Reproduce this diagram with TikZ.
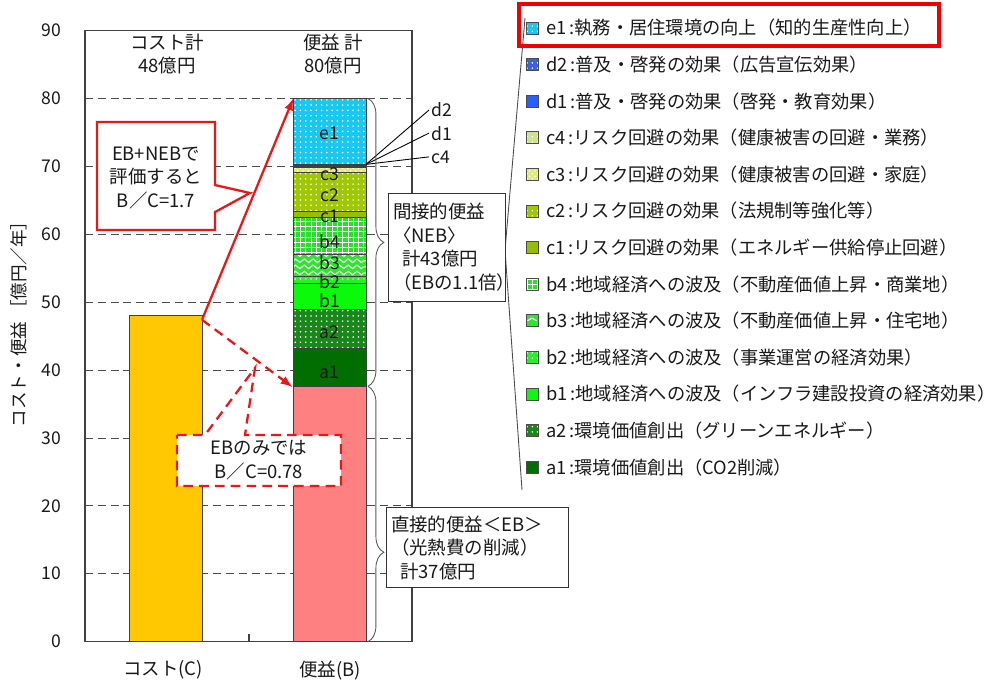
\documentclass[tikz,border=0pt]{standalone}
\usepackage{fontspec}
\setmainfont{Noto Sans CJK JP}
\usetikzlibrary{positioning, arrows, patterns, decorations.pathreplacing, decorations.pathmorphing}

\definecolor{costY}{RGB}{255,200,0}
\definecolor{ebPink}{RGB}{255,128,128}
\definecolor{colA1}{RGB}{0,110,0}
\definecolor{colA2}{RGB}{25,135,25}
\definecolor{colB1}{RGB}{10,250,10}
\definecolor{colB2}{RGB}{40,240,40}
\definecolor{colB3}{RGB}{45,230,45}
\definecolor{colB4}{RGB}{45,220,45}
\definecolor{colC1}{RGB}{150,190,0}
\definecolor{colC2}{RGB}{160,200,0}
\definecolor{colC3}{RGB}{220,235,120}
\definecolor{colC4}{RGB}{205,228,140}
\definecolor{colD1}{RGB}{40,95,255}
\definecolor{colD2}{RGB}{60,95,230}
\definecolor{colE1}{RGB}{25,200,240}
\definecolor{redArr}{RGB}{230,25,25}
\definecolor{redBox}{RGB}{240,0,0}

\begin{document}
\begin{tikzpicture}[x=0.02cm, y=0.1358cm,
  every node/.style={font=\fontsize{10.5}{13.5}\selectfont, inner sep=1pt, text=black!90},
  gridline/.style={black!70, line width=0.5pt, dash pattern=on 4.5pt off 2.8pt},
  seg/.style={draw=black!75, line width=0.4pt},
  dotseg/.style={seg, preaction={fill=#1}, pattern=dots, pattern color=white},
  wave/.style={white, line width=0.6pt, decorate, decoration={zigzag, segment length=5pt, amplitude=1pt}},
  brc/.style={black!65, line width=0.5pt, decorate, decoration={brace, amplitude=9pt, aspect=#1}},
  ticklbl/.style={anchor=east, font=\fontsize{10}{12}\selectfont},
  barlbl/.style={font=\fontsize{10}{12}\selectfont},
  infobox/.style={draw=black!80, fill=white, align=left, line width=0.5pt, inner xsep=0.1cm},
  redline/.style={draw=redArr, line width=1.3pt},
  reddash/.style={draw=redArr, line width=1.3pt, dash pattern=on 5.5pt off 3.5pt},
  legkey/.style={draw=black!70, minimum size=0.24cm, inner sep=0pt},
  dotkey/.style={legkey, preaction={fill=#1}, pattern=dots, pattern color=white},
  legtxt/.style={anchor=west, font=\fontsize{10.4}{12}\selectfont}
]
\useasboundingbox (0,-6.377) rectangle (999,94.51);

% grid and frame
\draw[gridline] (85,10) -- (412,10);
\draw[gridline] (85,20) -- (412,20);
\draw[gridline] (85,30) -- (412,30);
\draw[gridline] (85,40) -- (412,40);
\draw[gridline] (85,50) -- (412,50);
\draw[gridline] (85,60) -- (412,60);
\draw[gridline] (85,70) -- (412,70);
\draw[gridline] (85,80) -- (412,80);
\draw[black!75, line width=0.6pt] (85,0) rectangle (412,90);
\draw[black!75, line width=0.6pt] (249,0) -- (249,1.1);

\node[ticklbl] (T0) at (63,0) {0};
\node[ticklbl] (T10) at (63,10) {10};
\node[ticklbl] (T20) at (63,20) {20};
\node[ticklbl] (T30) at (63,30) {30};
\node[ticklbl] (T40) at (63,40) {40};
\node[ticklbl] (T50) at (63,50) {50};
\node[ticklbl] (T60) at (63,60) {60};
\node[ticklbl] (T70) at (63,70) {70};
\node[ticklbl] (T80) at (63,80) {80};
\node[ticklbl] (T90) at (63,90) {90};
\node[rotate=90, font=\fontsize{10}{12}\selectfont] (yAxis) at (19,47.4) {コスト・便益 ［億円／年］};

\node (costHead) at (167,88.2) {コスト計};
\node (costSum) at (167,84.9) {48億円};
\node (benHead) at (333,88.2) {便益 計};
\node (benSum) at (333,84.9) {80億円};
\node (costCat) at (163,-4.2) {コスト(C)};
\node (benCat) at (330,-4.2) {便益(B)};

% cost bar
\draw[seg, fill=costY] (129,0) rectangle (202.7,48);
\coordinate (costTip) at (202,47.4);

% benefit bar
\draw[seg, fill=ebPink] (293.3,0) rectangle (366,37.6);
\draw[seg, fill=colA1] (293.3,37.6) rectangle (366,43.15);
\draw[dotseg=colA2] (293.3,43.15) rectangle (366,49);
\draw[seg, fill=colB1] (293.3,49) rectangle (366,52.8);
\draw[dotseg=colB2] (293.3,52.8) rectangle (366,53.75);
\fill[colB3] (293.3,53.75) rectangle (366,57.1);
\begin{scope}
\clip (293.3,53.75) rectangle (366,57.1);
\draw[wave] (293.3,54.3) -- (366,54.3);
\draw[wave] (293.3,55.2) -- (366,55.2);
\draw[wave] (293.3,56.1) -- (366,56.1);
\draw[wave] (293.3,57.0) -- (366,57.0);
\end{scope}
\draw[seg] (293.3,53.75) rectangle (366,57.1);
\draw[seg, preaction={fill=colB4}, pattern=grid, pattern color=white] (293.3,57.1) rectangle (366,62.45);
\draw[seg, fill=colC1] (293.3,62.45) rectangle (366,63.4);
\draw[dotseg=colC2] (293.3,63.4) rectangle (366,69.1);
\draw[seg, preaction={fill=colC3}, pattern=crosshatch dots, pattern color=white] (293.3,69.1) rectangle (366,69.9);
\draw[seg, fill=colC4] (293.3,69.9) rectangle (366,70.05);
\draw[seg, fill=colD1] (293.3,70.05) rectangle (366,70.15);
\draw[dotseg=colD2] (293.3,70.15) rectangle (366,70.3);
\draw[dotseg=colE1] (293.3,70.3) rectangle (366,80);
\coordinate (benTop) at (293.3,80);
\coordinate (ebTop) at (292.5,37.5);
\coordinate (dCorner) at (366,70.3);

\node[barlbl] (lblE1) at (329.7,74.9) {e1};
\node[barlbl] (lblC3) at (329.7,68.9) {c3};
\node[barlbl] (lblC2) at (329.7,65.8) {c2};
\node[barlbl] (lblC1) at (329.7,62.6) {c1};
\node[barlbl] (lblB4) at (329.7,58.9) {b4};
\node[barlbl] (lblB3) at (329.7,55.8) {b3};
\node[barlbl] (lblB2) at (329.7,53.0) {b2};
\node[barlbl] (lblB1) at (329.7,50.3) {b1};
\node[barlbl] (lblA2) at (329.7,45.5) {a2};
\node[barlbl] (lblA1) at (329.7,39.6) {a1};

\node[barlbl, anchor=west] (lblD2) at (429,78.3) {d2};
\node[barlbl, anchor=west] (lblD1) at (429,74.9) {d1};
\node[barlbl, anchor=west] (lblC4) at (429,71.4) {c4};
\draw[black, line width=0.5pt] (dCorner) -- (lblD2.west);
\draw[black, line width=0.5pt] (dCorner) -- (lblD1.west);
\draw[black, line width=0.5pt] (dCorner) -- (lblC4.west);

% braces
\draw[brc=0.5] (368,80) -- (368,37.6);
\draw[brc=0.65] (368,37.6) -- (368,0);

% B/C callouts
\draw[redline, fill=white] (97,76.55) -- (215,76.55) -- (215,67.25) -- (250,66.08) -- (215,63.27) -- (215,60.64) -- (97,60.64) -- cycle;
\node[align=center] (bcAll) at (156,68.3) {EB+NEBで\\評価すると\\B／C=1.7};
\draw[redline, -latex] (costTip) -- (benTop);
\draw[reddash, -latex] (costTip) -- (ebTop);
\draw[reddash, fill=white] (177,30.44) -- (205,30.44) -- (255,40.31) -- (245,30.44) -- (341,30.44) -- (341,22.93) -- (177,22.93) -- cycle;
\node[align=center] (bcEB) at (259,26.7) {EBのみでは\\B／C=0.78};

% legend
\draw[black!70, line width=0.5pt] (525,91.85) -- (505,57.69) -- (522,22.34);
\node[infobox, text width=2.14cm, minimum height=2.16cm] (nebBox) at (446.5,58.11) {間接的便益\\〈NEB〉\\\hspace{0.5em}計43億円\\（EBの1.1倍）};
\node[infobox, text width=3.44cm, minimum height=1.6cm] (ebBox) at (477,13.8) {直接的便益＜EB＞\\（光熱費の削減）\\\hspace{0.5em}計37億円};

\draw[redBox, line width=2.3pt] (519,93.92) rectangle (939,87.73);
\node[dotkey=colE1] (kE1) at (532,90.38) {};
\node[dotkey=colD2] (kD2) at (532,84.99) {};
\node[legkey, fill=colD1] (kD1) at (532,79.60) {};
\node[dotkey=colC4] (kC4) at (532,74.21) {};
\node[legkey, preaction={fill=colC3}, pattern=crosshatch dots, pattern color=white] (kC3) at (532,68.82) {};
\node[dotkey=colC2] (kC2) at (532,63.43) {};
\node[legkey, fill=colC1] (kC1) at (532,58.04) {};
\node[legkey, preaction={fill=colB4}, pattern=grid, pattern color=white] (kB4) at (532,52.65) {};
\node[legkey, fill=colB3] (kB3) at (532,47.26) {};
\draw[white, line width=0.6pt] ([xshift=1pt]kB3.west) -- ([yshift=1.5pt]kB3.center) -- ([xshift=-1pt]kB3.east);
\node[dotkey=colB2] (kB2) at (532,41.87) {};
\node[legkey, fill=colB1] (kB1) at (532,36.48) {};
\node[dotkey=colA2] (kA2) at (532,31.09) {};
\node[legkey, fill=colA1] (kA1) at (532,25.70) {};

\node[legtxt] (tE1) at (544,90.38) {e1\,:執務・居住環境の向上（知的生産性向上）};
\node[legtxt] (tD2) at (544,84.99) {d2\,:普及・啓発の効果（広告宣伝効果）};
\node[legtxt] (tD1) at (544,79.60) {d1\,:普及・啓発の効果（啓発・教育効果）};
\node[legtxt] (tC4) at (544,74.21) {c4\,:リスク回避の効果（健康被害の回避・業務）};
\node[legtxt] (tC3) at (544,68.82) {c3\,:リスク回避の効果（健康被害の回避・家庭）};
\node[legtxt] (tC2) at (544,63.43) {c2\,:リスク回避の効果（法規制等強化等）};
\node[legtxt] (tC1) at (544,58.04) {c1\,:リスク回避の効果（エネルギー供給停止回避）};
\node[legtxt] (tB4) at (544,52.65) {b4\,:地域経済への波及（不動産価値上昇・商業地）};
\node[legtxt] (tB3) at (544,47.26) {b3\,:地域経済への波及（不動産価値上昇・住宅地）};
\node[legtxt] (tB2) at (544,41.87) {b2\,:地域経済への波及（事業運営の経済効果）};
\node[legtxt] (tB1) at (544,36.48) {b1\,:地域経済への波及（インフラ建設投資の経済効果）};
\node[legtxt] (tA2) at (544,31.09) {a2\,:環境価値創出（グリーンエネルギー）};
\node[legtxt] (tA1) at (544,25.70) {a1\,:環境価値創出（CO2削減）};
\end{tikzpicture}
\end{document}
